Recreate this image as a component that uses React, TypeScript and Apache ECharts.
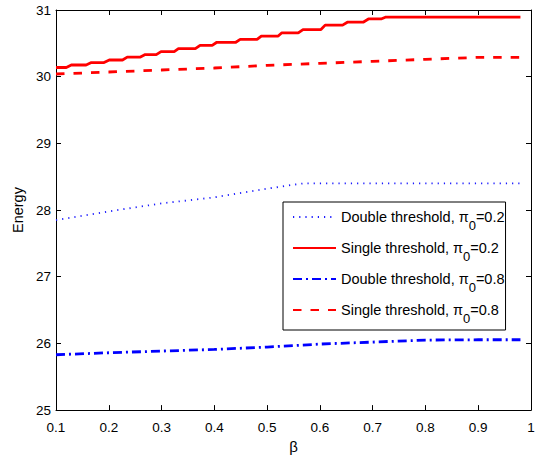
import React, { useEffect, useRef } from "react";
import * as echarts from "echarts";

// β tick labels and axis bounds
const xTicks = [0.1, 0.2, 0.3, 0.4, 0.5, 0.6, 0.7, 0.8, 0.9, 1.0];
const yTicks = [25, 26, 27, 28, 29, 30, 31];

const seriesNames = [
  "Double threshold, π0=0.2",
  "Single threshold, π0=0.2",
  "Double threshold, π0=0.8",
  "Single threshold, π0=0.8",
];

// Double threshold, π0 = 0.2 (dotted blue)
const doubleLowBeta = [0.1, 0.2, 0.3, 0.4, 0.5, 0.55, 0.57, 0.98];
const doubleLowE = [27.85, 27.98, 28.1, 28.19, 28.32, 28.38, 28.4, 28.4];

// Single threshold, π0 = 0.2 (solid red, staircase)
const singleLowBeta = [
  0.1, 0.1195, 0.129, 0.157, 0.167, 0.191, 0.201, 0.226, 0.235, 0.26, 0.269, 0.29,
  0.299, 0.324, 0.332, 0.364, 0.373, 0.396, 0.404, 0.44, 0.449, 0.481, 0.489, 0.521,
  0.528, 0.559, 0.568, 0.602, 0.61, 0.643, 0.652, 0.682, 0.692, 0.716, 0.724, 0.98,
];
const singleLowE = [
  30.138, 30.138, 30.175, 30.175, 30.212, 30.212, 30.25, 30.25, 30.294, 30.294, 30.331, 30.331,
  30.376, 30.376, 30.421, 30.421, 30.47, 30.47, 30.513, 30.513, 30.559, 30.559, 30.609, 30.609,
  30.658, 30.658, 30.707, 30.707, 30.773, 30.773, 30.817, 30.817, 30.866, 30.866, 30.892, 30.892,
];

// Double threshold, π0 = 0.8 (dash-dot blue)
const doubleHighBeta = [0.1, 0.2, 0.3, 0.4, 0.5, 0.6, 0.7, 0.8, 0.9, 0.98];
const doubleHighE = [25.83, 25.86, 25.885, 25.91, 25.945, 25.99, 26.02, 26.05, 26.055, 26.055];

// Single threshold, π0 = 0.8 (dashed red)
const singleHighBeta = [0.1, 0.2, 0.3, 0.4, 0.5, 0.6, 0.7, 0.8, 0.9, 0.98];
const singleHighE = [30.04, 30.07, 30.1, 30.13, 30.17, 30.2, 30.23, 30.26, 30.29, 30.29];

const zip = (xs: number[], ys: number[]) => xs.map((x, i) => [x, ys[i]]);

const FONT = "'Liberation Sans', Arial, Helvetica, sans-serif";

export default function App() {
  const ref = useRef<HTMLDivElement>(null);
  useEffect(() => {
    if (!ref.current) return;
    const chart = echarts.init(ref.current, undefined, { renderer: "svg" });
    const xMin = xTicks[0];
    const xMax = xTicks[xTicks.length - 1];
    const yMin = yTicks[0];
    const yMax = yTicks[yTicks.length - 1];
    const fmtX = (v: number) => String(parseFloat(v.toFixed(1)));
    const baseAxisLine = { show: true, lineStyle: { color: "#000", width: 1 } };
    const tick = { show: true, inside: true, length: 5, lineStyle: { color: "#000", width: 1 } };
    const lineStyles = [
      { color: "#1a1aff", width: 1.8, type: [1.2, 5] },
      { color: "#ff0000", width: 2.8, type: "solid" },
      { color: "#0000ff", width: 2.8, type: [9, 4, 2, 4] },
      { color: "#ff0000", width: 2.8, type: [8.5, 9] },
    ];
    const datasets = [
      zip(doubleLowBeta, doubleLowE),
      zip(singleLowBeta, singleLowE),
      zip(doubleHighBeta, doubleHighE),
      zip(singleHighBeta, singleHighE),
    ];
    chart.setOption({
      animation: false,
      backgroundColor: "#fff",
      textStyle: { fontFamily: FONT },
      grid: { left: 56, right: 14, top: 10, bottom: 45, containLabel: false },
      xAxis: [
        {
          type: "value",
          min: xMin,
          max: xMax,
          interval: 0.1,
          position: "bottom",
          name: "β",
          nameLocation: "middle",
          nameGap: 26,
          nameTextStyle: { fontSize: 15, color: "#000", fontFamily: FONT },
          axisLine: baseAxisLine,
          axisTick: tick,
          splitLine: { show: false },
          axisLabel: { color: "#000", fontSize: 13.5, margin: 10, fontFamily: FONT, formatter: fmtX },
        },
        {
          type: "value",
          min: xMin,
          max: xMax,
          interval: 0.1,
          position: "top",
          axisLine: baseAxisLine,
          axisTick: tick,
          splitLine: { show: false },
          axisLabel: { show: false },
        },
      ],
      yAxis: [
        {
          type: "value",
          min: yMin,
          max: yMax,
          interval: 1,
          position: "left",
          name: "Energy",
          nameLocation: "middle",
          nameGap: 21,
          nameTextStyle: { fontSize: 14.5, color: "#000", fontFamily: FONT },
          axisLine: baseAxisLine,
          axisTick: tick,
          splitLine: { show: false },
          axisLabel: { color: "#000", fontSize: 13.5, margin: 5, fontFamily: FONT },
        },
        {
          type: "value",
          min: yMin,
          max: yMax,
          interval: 1,
          position: "right",
          axisLine: baseAxisLine,
          axisTick: tick,
          splitLine: { show: false },
          axisLabel: { show: false },
        },
      ],
      legend: {
        orient: "vertical",
        left: 283,
        top: 202,
        padding: [0, 1, 5, 9],
        itemGap: 1,
        itemWidth: 43,
        itemHeight: 14,
        borderColor: "#000",
        borderWidth: 1,
        backgroundColor: "#fff",
        data: seriesNames,
        itemStyle: { opacity: 0, color: "transparent", borderWidth: 0 },
        formatter: (name: string) => {
          const [pre, post] = name.split("π0");
          return `{n|${pre}}{n|π}{s|0}{n|${post}}`;
        },
        textStyle: {
          fontSize: 14.5,
          color: "#000",
          fontFamily: FONT,
          rich: {
            n: { fontSize: 14.5, color: "#000", fontFamily: FONT, lineHeight: 17, verticalAlign: "middle" },
            s: {
              fontSize: 13,
              color: "#000",
              fontFamily: FONT,
              lineHeight: 1,
              verticalAlign: "middle",
              padding: [17, 0, 0, 0],
            },
          },
        },
      },
      series: seriesNames.map((name, i) => ({
        name,
        type: "line",
        xAxisIndex: 0,
        yAxisIndex: 0,
        data: datasets[i],
        symbol: "none",
        showSymbol: false,
        lineStyle: lineStyles[i],
        itemStyle: { color: lineStyles[i].color },
        color: lineStyles[i].color,
        z: 2,
      })),
    });
    return () => chart.dispose();
  }, []);
  return (
    <div
      ref={ref}
      style={{ position: "fixed", left: 0, top: 0, width: 545, height: 459, background: "#fff" }}
    />
  );
}
